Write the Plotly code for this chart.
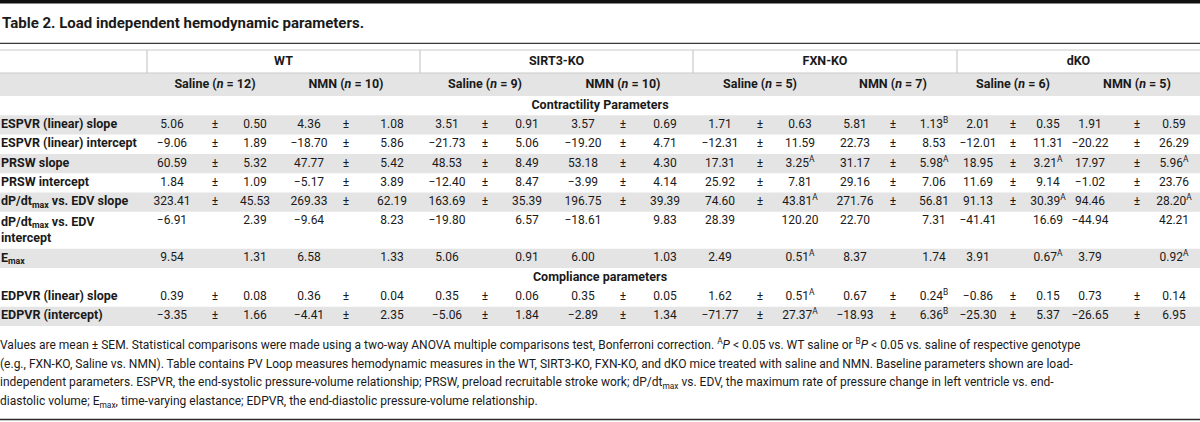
import plotly.graph_objects as go

# ---------------- data ----------------
title = "Table 2. Load independent hemodynamic parameters."
groups = ["WT", "SIRT3-KO", "FXN-KO", "dKO"]
treatments = ["Saline", "NMN", "Saline", "NMN", "Saline", "NMN", "Saline", "NMN"]
n_sizes = [12, 10, 9, 10, 5, 7, 6, 5]
sections = ["Contractility Parameters", "Compliance parameters"]
params = [
    "ESPVR (linear) slope",
    "ESPVR (linear) intercept",
    "PRSW slope",
    "PRSW intercept",
    "dP/dt<sub>max</sub> vs. EDV slope",
    "dP/dt<sub>max</sub> vs. EDV<br>intercept",
    "E<sub>max</sub>",
    "EDPVR (linear) slope",
    "EDPVR (intercept)",
]
param_section = [0, 0, 0, 0, 0, 0, 0, 1, 1]
means = [
    [5.06, 4.36, 3.51, 3.57, 1.71, 5.81, 2.01, 1.91],
    [-9.06, -18.70, -21.73, -19.20, -12.31, 22.73, -12.01, -20.22],
    [60.59, 47.77, 48.53, 53.18, 17.31, 31.17, 18.95, 17.97],
    [1.84, -5.17, -12.40, -3.99, 25.92, 29.16, 11.69, -1.02],
    [323.41, 269.33, 163.69, 196.75, 74.60, 271.76, 91.13, 94.46],
    [-6.91, -9.64, -19.80, -18.61, 28.39, 22.70, -41.41, -44.94],
    [9.54, 6.58, 5.06, 6.00, 2.49, 8.37, 3.91, 3.79],
    [0.39, 0.36, 0.35, 0.35, 1.62, 0.67, -0.86, 0.73],
    [-3.35, -4.41, -5.06, -2.89, -71.77, -18.93, -25.30, -26.65],
]
sems = [
    [0.50, 1.08, 0.91, 0.69, 0.63, 1.13, 0.35, 0.59],
    [1.89, 5.86, 5.06, 4.71, 11.59, 8.53, 11.31, 26.29],
    [5.32, 5.42, 8.49, 4.30, 3.25, 5.98, 3.21, 5.96],
    [1.09, 3.89, 8.47, 4.14, 7.81, 7.06, 9.14, 23.76],
    [45.53, 62.19, 35.39, 39.39, 43.81, 56.81, 30.39, 28.20],
    [2.39, 8.23, 6.57, 9.83, 120.20, 7.31, 16.69, 42.21],
    [1.31, 1.33, 0.91, 1.03, 0.51, 1.74, 0.67, 0.92],
    [0.08, 0.04, 0.06, 0.05, 0.51, 0.24, 0.15, 0.14],
    [1.66, 2.35, 1.84, 1.34, 27.37, 6.36, 5.37, 6.95],
]
sig_marks = [
    ["", "", "", "", "", "B", "", ""],
    ["", "", "", "", "", "", "", ""],
    ["", "", "", "", "A", "A", "A", "A"],
    ["", "", "", "", "", "", "", ""],
    ["", "", "", "", "A", "", "A", "A"],
    ["", "", "", "", "", "", "", ""],
    ["", "", "", "", "A", "", "A", "A"],
    ["", "", "", "", "A", "B", "", ""],
    ["", "", "", "", "A", "B", "", ""],
]
show_pm = [True, True, True, True, True, False, False, True, True]
footnote = [
    "Values are mean ± SEM. Statistical comparisons were made using a two-way ANOVA multiple comparisons test, Bonferroni correction. "
    "<sup>A</sup><i>P</i> < 0.05 vs. WT saline or <sup>B</sup><i>P</i> < 0.05 vs. saline of respective genotype",
    "(e.g., FXN-KO, Saline vs. NMN). Table contains PV Loop measures hemodynamic measures in the WT, SIRT3-KO, FXN-KO, and dKO mice treated with saline and NMN. Baseline parameters shown are load-",
    "independent parameters. ESPVR, the end-systolic pressure-volume relationship; PRSW, preload recruitable stroke work; dP/dt<sub>max</sub> vs. EDV, the maximum rate of pressure change in left ventricle vs. end-",
    "diastolic volume; E<sub>max</sub>, time-varying elastance; EDPVR, the end-diastolic pressure-volume relationship.",
]

# ---------------- layout constants ----------------
W, H = 1200, 422
FONT = "Roboto"
FS = 12
TXT = "#1a1a1a"
GRAY = "#e4e4e4"
LIGHT = "#c9c9c9"
group_edges = [147, 420, 693, 957, 1200]
col_x = [172, 215, 255, 309, 346, 392,
         447, 485, 527, 583, 623, 665,
         720, 760, 800, 855, 893, 934,
         978, 1013, 1048, 1090, 1137, 1174]
H1_TOP, H1_BOT, H2_BOT = 50, 73, 96
ROW_H, SEC_H, DOUBLE_H = 19.3, 19.3, 37.0


def fmt(v):
    s = f"{abs(v):.2f}"
    return ("\u2212" + s) if v < 0 else s


def tf(size=FS, bold=False):
    return dict(family=FONT, size=size, color=TXT, weight="bold" if bold else "normal")


fig = go.Figure()
shapes = []

# compute row geometry
y = H2_BOT
row_rows = []   # (top, bottom, text_y, label_y)
sec_rows = []
cur_sec = -1
for i, p in enumerate(params):
    if param_section[i] != cur_sec:
        cur_sec = param_section[i]
        sec_rows.append((y, y + SEC_H))
        y += SEC_H
    h = DOUBLE_H if "<br>" in p else ROW_H
    ty = y + ROW_H / 2
    ly = y + h / 2 + (0.5 if h > ROW_H else 0)
    row_rows.append((y, y + h, ty, ly))
    y += h

# stripes (even rows gray)
for i, (t, b, ty, ly) in enumerate(row_rows):
    if i % 2 == 0:
        shapes.append(dict(type="rect", xref="x", yref="y", x0=0, x1=W, y0=t, y1=b,
                           fillcolor=GRAY, line=dict(width=0), layer="below"))
# header 2 gray
shapes.append(dict(type="rect", xref="x", yref="y", x0=0, x1=W, y0=H1_BOT, y1=H2_BOT,
                   fillcolor=GRAY, line=dict(width=0), layer="below"))
# rules
shapes.append(dict(type="rect", xref="x", yref="y", x0=0, x1=W, y0=0, y1=3.5,
                   fillcolor="#111111", line=dict(width=0)))
shapes.append(dict(type="line", xref="x", yref="y", x0=0, x1=W, y0=43.3, y1=43.3,
                   line=dict(color="#3a3a3a", width=1.2)))
shapes.append(dict(type="line", xref="x", yref="y", x0=0, x1=W, y0=H1_TOP, y1=H1_TOP,
                   line=dict(color=LIGHT, width=1.2)))
shapes.append(dict(type="line", xref="x", yref="y", x0=0, x1=W, y0=H1_BOT, y1=H1_BOT,
                   line=dict(color=LIGHT, width=1.2)))
for gx in group_edges[:-1]:
    shapes.append(dict(type="line", xref="x", yref="y", x0=gx, x1=gx, y0=H1_TOP, y1=H1_BOT,
                       line=dict(color=LIGHT, width=1.2)))
shapes.append(dict(type="line", xref="x", yref="y", x0=0, x1=W, y0=419.5, y1=419.5,
                   line=dict(color="#2a2a2a", width=1.5)))

# title
fig.add_trace(go.Scatter(x=[2], y=[24], mode="text", text=[title],
                         textposition="middle right", hoverinfo="skip",
                         textfont=tf(15, True)))

# group header
gx_c = [(group_edges[k] + group_edges[k + 1]) / 2 for k in range(len(groups))]
fig.add_trace(go.Scatter(x=gx_c, y=[(H1_TOP + H1_BOT) / 2] * len(groups), mode="text",
                         text=groups, textposition="middle center",
                         hoverinfo="skip", textfont=tf(12.5, bold=True)))
# treatment header
tx = [col_x[3 * k + 1] for k in range(len(treatments))]
fig.add_trace(go.Scatter(x=tx, y=[(H1_BOT + H2_BOT) / 2] * len(treatments), mode="text",
                         text=[f"{t} (<i>n</i> = {n})" for t, n in zip(treatments, n_sizes)],
                         textposition="middle center", hoverinfo="skip",
                         textfont=tf(12.5, bold=True)))
# sections
fig.add_trace(go.Scatter(x=[W / 2] * len(sections), y=[(t + b) / 2 for t, b in sec_rows],
                         mode="text", text=sections,
                         textposition="middle center", hoverinfo="skip",
                         textfont=tf(12.5, bold=True)))
# row labels
fig.add_trace(go.Scatter(x=[1] * len(params), y=[r[3] for r in row_rows], mode="text",
                         text=params, textposition="middle right", hoverinfo="skip",
                         textfont=tf(12.5, bold=True)))

# cells
cx, cy, ct = [], [], []
for i in range(len(params)):
    ty = row_rows[i][2]
    for k in range(len(treatments)):
        cx.append(col_x[3 * k]); cy.append(ty); ct.append(fmt(means[i][k]))
        if show_pm[i]:
            cx.append(col_x[3 * k + 1]); cy.append(ty); ct.append("±")
        mark = f"<sup>{sig_marks[i][k]}</sup>" if sig_marks[i][k] else ""
        cx.append(col_x[3 * k + 2]); cy.append(ty); ct.append(fmt(sems[i][k]) + mark)
fig.add_trace(go.Scatter(x=cx, y=cy, mode="text", text=ct, textposition="middle center",
                         hoverinfo="skip", textfont=tf()))

# footnote
fy0, fdy = 346, 18.7
fig.add_trace(go.Scatter(x=[0] * len(footnote), y=[fy0 + i * fdy for i in range(len(footnote))],
                         mode="text", text=footnote, textposition="middle right",
                         hoverinfo="skip", textfont=tf()))

fig.update_layout(
    width=W, height=H, margin=dict(l=0, r=0, t=0, b=0, pad=0),
    paper_bgcolor="white", plot_bgcolor="white", showlegend=False,
    xaxis=dict(range=[0, W], visible=False, fixedrange=True),
    yaxis=dict(range=[H, 0], visible=False, fixedrange=True),
    shapes=shapes,
)
fig.write_html("out.html", config={"displayModeBar": False},
               post_script="document.body.style.margin='0';document.body.style.overflow='hidden';")
